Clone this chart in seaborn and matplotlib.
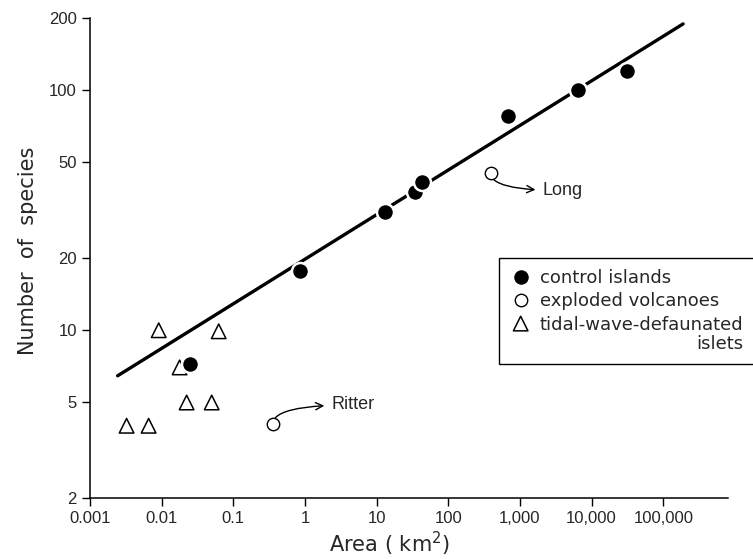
import numpy as np
import pandas as pd
import seaborn as sns
import matplotlib.pyplot as plt

# species-area data (area in km2, number of species)
control_area = [0.0246, 0.845, 13, 34, 42.8, 679, 6460, 31200]
control_species = [7.2, 17.7, 31, 37.5, 41.3, 78, 100, 120]

volcano_names = ["Ritter", "Long"]
volcano_area = [0.355, 393]
volcano_species = [4.07, 45]

islet_area = [0.00324, 0.00658, 0.0091, 0.0178, 0.0223, 0.0499, 0.0625]
islet_species = [4, 4, 10, 7, 5, 5, 9.9]

# fitted line end points
line_area = [0.00243, 189000]
line_species = [6.46, 189]

x_ticks = [0.001, 0.01, 0.1, 1, 10, 100, 1000, 10000, 100000]
x_labels = ["0.001", "0.01", "0.1", "1", "10", "100", "1,000", "10,000", "100,000"]
y_ticks = [2, 5, 10, 20, 50, 100, 200]
y_labels = ["2", "5", "10", "20", "50", "100", "200"]

control = pd.DataFrame({"area": control_area, "species": control_species})
volcano = pd.DataFrame({"area": volcano_area, "species": volcano_species, "name": volcano_names})
islets = pd.DataFrame({"area": islet_area, "species": islet_species})
fit = pd.DataFrame({"area": line_area, "species": line_species})

sns.set_theme(style="ticks")
plt.rcParams["font.family"] = ["Liberation Sans", "DejaVu Sans"]
plt.rcParams["mathtext.default"] = "regular"
wide = ["DejaVu Sans"]

fig = plt.figure(figsize=(7.53, 5.59), dpi=100)
ax = fig.add_axes([90 / 753, 1 - 498 / 559, (728 - 90) / 753, (498 - 18) / 559])
ax.set_xscale("log")
ax.set_yscale("log")

sns.lineplot(data=fit, x="area", y="species", color="black", linewidth=2.4, ax=ax, zorder=1)
sns.scatterplot(data=control, x="area", y="species", marker="o", s=150, color="black",
                edgecolor="white", linewidth=1.8, label="control islands", ax=ax, zorder=4)
sns.scatterplot(data=volcano, x="area", y="species", marker="o", s=80, facecolor="white",
                edgecolor="black", linewidth=1.0, label="exploded volcanoes", ax=ax, zorder=3)
sns.scatterplot(data=islets, x="area", y="species", marker="^", s=110, facecolor="none",
                edgecolor="black", linewidth=1.1, label="tidal-wave-defaunated\nislets", ax=ax, zorder=3)

# labels for the two volcanoes, arrow from point to name
offsets = {"Ritter": (59, 19, 90), "Long": (52, -17, -90)}
for _, row in volcano.iterrows():
    dx, dy, ang = offsets[row["name"]]
    ax.annotate(row["name"], xy=(row["area"], row["species"]), xytext=(dx, dy),
                textcoords="offset pixels", ha="left", va="center", fontsize=13,
                arrowprops=dict(arrowstyle="<-", color="black", lw=1.0,
                                connectionstyle=f"angle3,angleA=0,angleB={ang}",
                                shrinkA=3, shrinkB=5))

ax.set_xlim(0.001, 8.0e5)
ax.set_ylim(2, 200)
ax.set_xticks(x_ticks)
ax.set_xticklabels(x_labels)
ax.set_yticks(y_ticks)
ax.set_yticklabels(y_labels)
ax.minorticks_off()
ax.tick_params(axis="both", labelsize=12, length=6, width=1, color="black", direction="out")
sns.despine(ax=ax)
for s in ["left", "bottom"]:
    ax.spines[s].set_linewidth(1.1)
    ax.spines[s].set_color("black")

ax.set_xlabel("Area ( km$^{2}$)", fontsize=15, family=wide)
ax.set_ylabel("Number  of  species", fontsize=15, family=wide)
ax.xaxis.set_label_coords(0.47, -0.066)
ax.yaxis.set_label_coords(-0.082, 0.516)

leg = ax.legend(loc="upper left", bbox_to_anchor=(499 / 753, 1 - 258 / 559),
                bbox_transform=fig.transFigure, prop={"family": wide, "size": 13},
                frameon=True, fancybox=False, edgecolor="black", framealpha=1,
                borderaxespad=0, handletextpad=0.45, labelspacing=0.3,
                handlelength=1.2, borderpad=0.6)
leg.get_frame().set_linewidth(1.0)
for t in leg.get_texts():
    t.set_multialignment("right")
    t.set_linespacing(1.12)
# keep each marker level with the first line of its label
for col in leg._legend_handle_box.get_children():
    for item in col.get_children():
        item.align = "top"

fig.savefig("out.png", dpi=100)
